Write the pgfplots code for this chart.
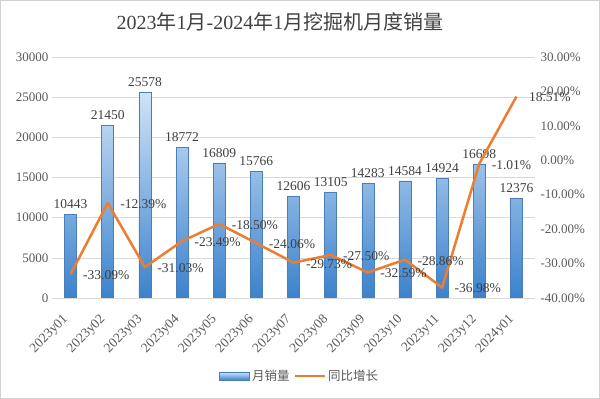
\documentclass[border=0pt]{standalone}
\usepackage{pgfplots}
\pgfplotsset{compat=1.18}
\usepackage{fontspec}
\setmainfont{Liberation Serif}
\newfontfamily\cjk{Noto Sans CJK SC}
\definecolor{barTop}{HTML}{CFE3F7}
\definecolor{barBot}{HTML}{3B82CC}
\definecolor{barEdge}{HTML}{4A7EBB}
\definecolor{lineOr}{HTML}{ED7D31}
\definecolor{txt}{HTML}{404040}
\definecolor{tick}{HTML}{595959}
\definecolor{gridc}{HTML}{D9D9D9}
\begin{document}
\begin{tikzpicture}
\begin{axis}[
  at={(52pt,101pt)}, anchor=south west,
  scale only axis, width=483pt, height=241pt,
  xmin=-0.5, xmax=12.5, ymin=0, ymax=30000,
  xtick={0,...,12},
  xticklabels={2023y01,2023y02,2023y03,2023y04,2023y05,2023y06,2023y07,2023y08,2023y09,2023y10,2023y11,2023y12,2024y01},
  xticklabel style={xshift=-2pt, yshift=-17pt, rotate=45, anchor=east, font=\fontsize{13.5}{14}\selectfont, text=tick},
  ytick={0,5000,...,30000},
  yticklabel style={font=\fontsize{13}{14}\selectfont, text=tick},
  /pgf/number format/assume math mode=true,
  scaled y ticks=false,
  yticklabel={\pgfmathprintnumber[fixed,1000 sep={}]{\tick}},
  major tick length=0pt,
  axis x line*=bottom, axis y line*=left,
  y axis line style={draw=none},
  x axis line style={draw=gridc, line width=0.8pt},
  ymajorgrids, grid style={gridc, line width=0.6pt},
  ybar, bar width=12pt,
  nodes near coords,
  nodes near coords style={font=\fontsize{13.5}{14}\selectfont, text=txt, yshift=2pt},
  every node near coord/.append style={/pgf/number format/.cd, fixed, 1000 sep={}},
  legend style={at={(0.513,-0.324)}, anchor=center, draw=none, legend columns=2,
    font=\fontsize{12.5}{13}\selectfont\cjk, text=tick,
    /tikz/every even column/.append style={column sep=2pt}},
  legend cell align=left,
]
\addplot[draw=barEdge, line width=0.6pt, top color=barTop, bottom color=barBot,
  area legend,
  legend image code/.code={\draw[draw=barEdge, top color=barTop, bottom color=barBot] (0pt,-4pt) rectangle (30pt,4pt);}]
  coordinates {(0,10443) (1,21450) (2,25578) (3,18772) (4,16809) (5,15766) (6,12606) (7,13105) (8,14283) (9,14584) (10,14924) (11,16698) (12,12376)};
\addlegendentry{月销量}
\addlegendimage{legend image code/.code={\draw[lineOr, line width=2.5pt] (0pt,0pt) -- (30pt,0pt);}}
\addlegendentry{同比增长}
\end{axis}
\begin{axis}[
  at={(52pt,101pt)}, anchor=south west,
  scale only axis, width=483pt, height=241pt,
  xmin=-0.5, xmax=12.5, ymin=-40, ymax=30,
  ytick={-40,-30,...,30},
  axis y line*=right, axis x line=none,
  y axis line style={draw=none},
  major tick length=0pt,
  /pgf/number format/assume math mode=true,
  yticklabel={\pgfmathprintnumber[fixed,fixed zerofill,precision=2]{\tick}\%},
  yticklabel style={font=\fontsize{13}{14}\selectfont, text=tick, xshift=2pt},
]
\addplot[lineOr, line width=2.5pt, line join=round, mark=none,
  nodes near coords={\pgfmathprintnumber[fixed,fixed zerofill,precision=2,assume math mode=true]{\pgfplotspointmeta}\%},
  nodes near coords style={font=\fontsize{13.5}{14}\selectfont, text=txt, anchor=west, xshift=8pt, yshift=-1pt},
  point meta=y]
  coordinates {(0,-33.09) (1,-12.39) (2,-31.03) (3,-23.49) (4,-18.50) (5,-24.06) (6,-29.73) (7,-27.50) (8,-32.59) (9,-28.86) (10,-36.98) (11,-1.01) (12,18.51)};
\end{axis}
\node[text=txt] at (280pt,377pt) {\fontsize{20}{23}\selectfont 2023{\cjk 年}1{\cjk 月}-2024{\cjk 年}1{\cjk 月}{\cjk 挖掘机月度销量}};
\draw[gray!35] (0.5pt,0.5pt) rectangle (599.5pt,398.5pt);
\pgfresetboundingbox
\path[use as bounding box] (0pt,0pt) rectangle (600pt,399pt);
\end{tikzpicture}
\end{document}
